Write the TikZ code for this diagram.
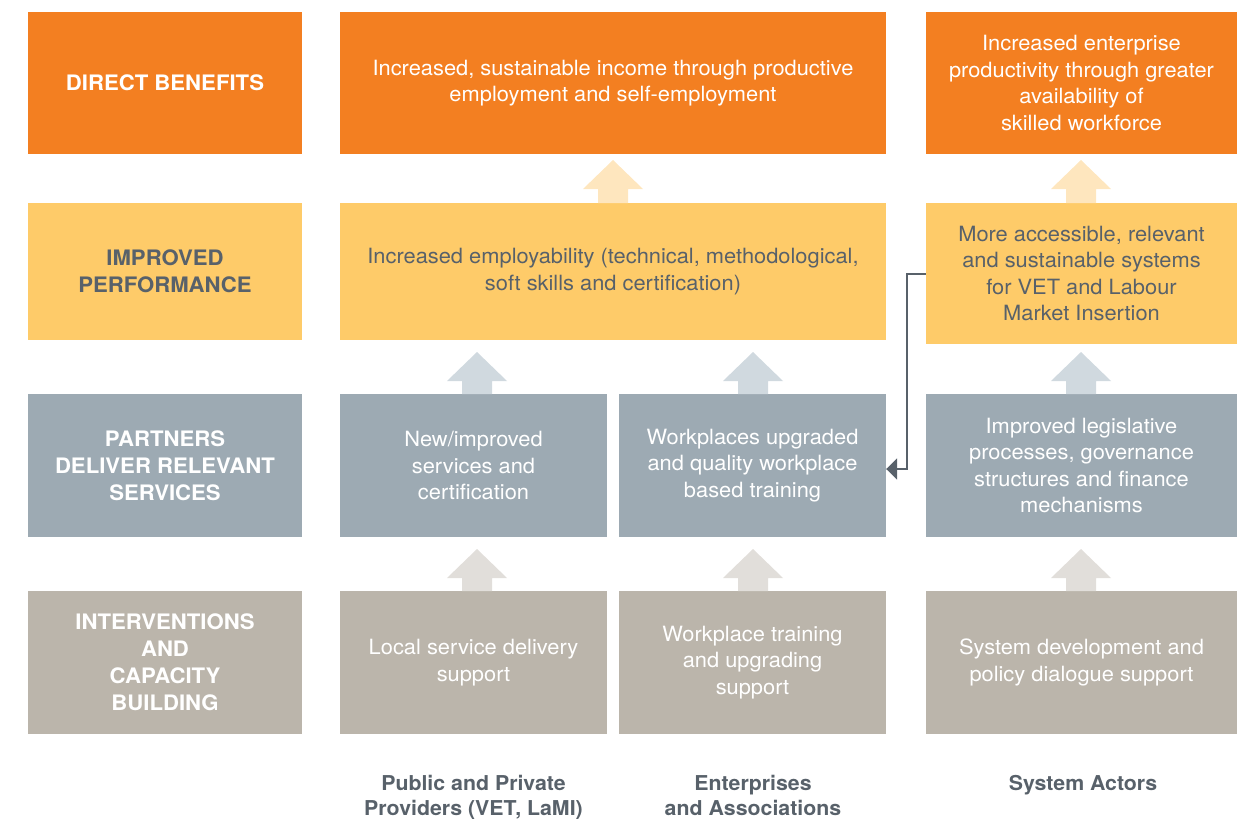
\documentclass[tikz,border=0pt]{standalone}
\usepackage{fontspec}
\setmainfont{TeX Gyre Heros}[FakeStretch=1.04]
\usetikzlibrary{arrows.meta}
\definecolor{orng}{HTML}{F37F21}
\definecolor{yell}{HTML}{FECB69}
\definecolor{yellarr}{HTML}{FEE6BE}
\definecolor{bgray}{HTML}{9DAAB3}
\definecolor{bgrayarr}{HTML}{D0D9DF}
\definecolor{taupe}{HTML}{BBB5AB}
\definecolor{taupearr}{HTML}{E1DEDA}
\definecolor{dtext}{HTML}{58616A}
\newcommand\blockup[4]{\fill[#1] (#2-15,#4) -- (#2-15,#3+29) -- (#2-30,#3+29) -- (#2,#3) -- (#2+30,#3+29) -- (#2+15,#3+29) -- (#2+15,#4) -- cycle;}
\begin{document}
\begin{tikzpicture}[x=1pt,y=-1pt,
  box/.style={rectangle, inner sep=0pt, align=center, font=\fontsize{21}{26.5}\selectfont},
  lab/.style={box, minimum width=274pt, font=\fontsize{21.3}{27}\selectfont\bfseries},
  r1/.style={fill=orng, text=white, minimum height=142pt},
  r2/.style={fill=yell, text=dtext, minimum height=137pt},
  r3/.style={fill=bgray, text=white, minimum height=143pt},
  r4/.style={fill=taupe, text=white, minimum height=143pt},
  wA/.style={minimum width=267pt},
  wW/.style={minimum width=546pt},
  wC/.style={minimum width=311pt},
  foot/.style={align=center, anchor=north, inner sep=0pt, text=dtext, font=\fontsize{20.5}{25.5}\selectfont\bfseries},
  conn/.style={draw=dtext, line width=2pt, -{Triangle[length=11pt,width=21pt]}}]
\useasboundingbox (0,0) rectangle (1242,819);
% label column
\node[lab, r1] (l1) at (165,83) {DIRECT BENEFITS};
\node[lab, r2] (l2) at (165,271.5) {IMPROVED\\PERFORMANCE};
\node[lab, r3] (l3) at (165,465.5) {PARTNERS\\DELIVER RELEVANT\\SERVICES};
\node[lab, r4] (l4) at (165,662.5) {INTERVENTIONS\\AND\\CAPACITY\\BUILDING};
% row 1
\node[box, r1, wW] (a1) at (613,83) {Increased, sustainable income through productive\\employment and self-employment};
\node[box, r1, wC] (c1) at (1081.5,83) {Increased enterprise\\productivity through greater\\availability of\\skilled workforce};
% row 2
\node[box, r2, wW] (a2) at (613,271.5) {Increased employability (technical, methodological,\\soft skills and certification)};
\node[box, r2, wC, minimum height=141pt] (c2) at (1081.5,273.5) {More accessible, relevant\\and sustainable systems\\for VET and Labour\\Market Insertion};
% row 3
\node[box, r3, wA] (a3) at (473.5,465.5) {New/improved\\services and\\certification};
\node[box, r3, wA] (b3) at (752.5,465.5) {Workplaces upgraded\\and quality workplace\\based training};
\node[box, r3, wC] (c3) at (1081.5,465.5) {Improved legislative\\processes, governance\\structures and finance\\mechanisms};
% row 4
\node[box, r4, wA] (a4) at (473.5,662.5) {Local service delivery\\support};
\node[box, r4, wA] (b4) at (752.5,662.5) {Workplace training\\and upgrading\\support};
\node[box, r4, wC] (c4) at (1081.5,662.5) {System development and\\policy dialogue support};
% footers
\node[foot] (fa) at (473.5,775) {Public and Private\\Providers (VET, LaMI)};
\node[foot] (fb) at (753,775) {Enterprises\\and Associations};
\node[foot] (fc) at (1083,775) {System Actors};
% block arrows
\blockup{yellarr}{613}{160}{203}
\blockup{yellarr}{1081}{160}{203}
\blockup{bgrayarr}{477}{352}{394}
\blockup{bgrayarr}{753}{352}{394}
\blockup{bgrayarr}{1081}{352}{394}
\blockup{taupearr}{477}{549}{591}
\blockup{taupearr}{753}{549}{591}
\blockup{taupearr}{1081}{549}{591}
% connector
\draw[conn] (c2.west) -- ++(-19,0) |- ([yshift=-3.5pt]b3.east);
\end{tikzpicture}
\end{document}
